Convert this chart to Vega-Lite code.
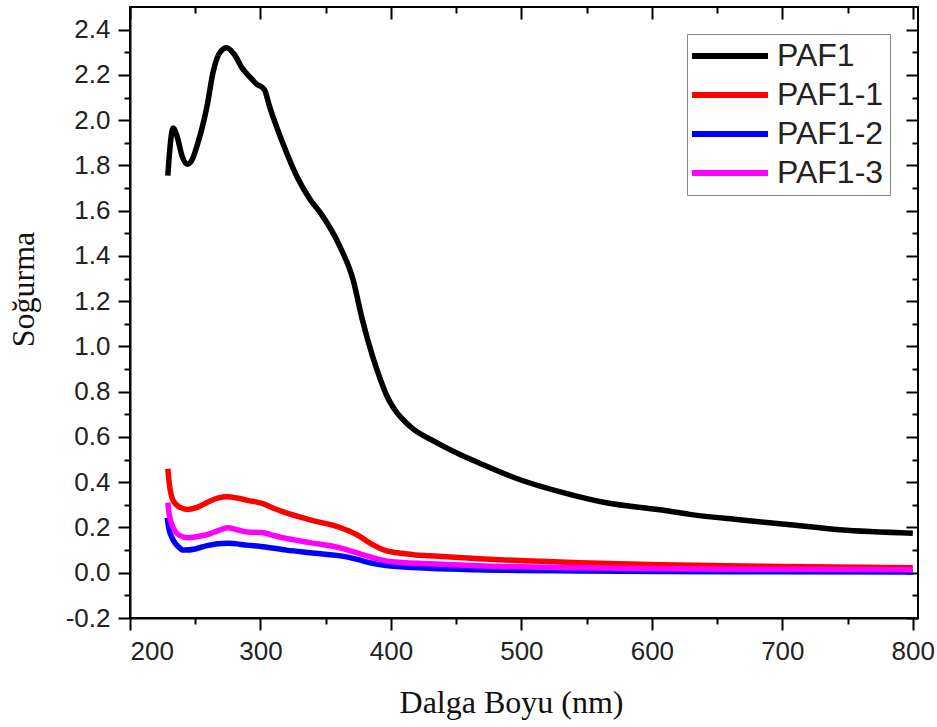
{
  "$schema": "https://vega.github.io/schema/vega-lite/v6.json",
  "width": 788,
  "height": 611,
  "autosize": {"type": "none"},
  "padding": {"left": 130, "top": 7, "right": 19, "bottom": 109},
  "background": "white",
  "config": {
    "view": {"stroke": "black", "strokeWidth": 2},
    "axis": {
      "grid": false,
      "domainColor": "black",
      "domainWidth": 2,
      "tickColor": "black",
      "tickWidth": 2,
      "labelFont": "Liberation Sans",
      "labelFontSize": 26,
      "labelColor": "#222",
      "labelPadding": 8,
      "titleFont": "Liberation Serif",
      "titleFontSize": 32,
      "titleFontWeight": "normal",
      "titleColor": "#111"
    }
  },
  "data": {
    "values": [
      {"s": "PAF1", "x": 229, "y": 1.755},
      {"s": "PAF1", "x": 231, "y": 1.9},
      {"s": "PAF1", "x": 233, "y": 1.965},
      {"s": "PAF1", "x": 236, "y": 1.93},
      {"s": "PAF1", "x": 240, "y": 1.84},
      {"s": "PAF1", "x": 244, "y": 1.805},
      {"s": "PAF1", "x": 248, "y": 1.83},
      {"s": "PAF1", "x": 251, "y": 1.88},
      {"s": "PAF1", "x": 255, "y": 1.96},
      {"s": "PAF1", "x": 259, "y": 2.06},
      {"s": "PAF1", "x": 263.6, "y": 2.21},
      {"s": "PAF1", "x": 269, "y": 2.3},
      {"s": "PAF1", "x": 274, "y": 2.32},
      {"s": "PAF1", "x": 280, "y": 2.29},
      {"s": "PAF1", "x": 286, "y": 2.23},
      {"s": "PAF1", "x": 292, "y": 2.19},
      {"s": "PAF1", "x": 297, "y": 2.16},
      {"s": "PAF1", "x": 303, "y": 2.135},
      {"s": "PAF1", "x": 307, "y": 2.06},
      {"s": "PAF1", "x": 317, "y": 1.9},
      {"s": "PAF1", "x": 328, "y": 1.75},
      {"s": "PAF1", "x": 338, "y": 1.65},
      {"s": "PAF1", "x": 346, "y": 1.59},
      {"s": "PAF1", "x": 361, "y": 1.44},
      {"s": "PAF1", "x": 371, "y": 1.295},
      {"s": "PAF1", "x": 378, "y": 1.12},
      {"s": "PAF1", "x": 386, "y": 0.955},
      {"s": "PAF1", "x": 392, "y": 0.853},
      {"s": "PAF1", "x": 397, "y": 0.78},
      {"s": "PAF1", "x": 403, "y": 0.72},
      {"s": "PAF1", "x": 415, "y": 0.645},
      {"s": "PAF1", "x": 435, "y": 0.575},
      {"s": "PAF1", "x": 455, "y": 0.517},
      {"s": "PAF1", "x": 468, "y": 0.484},
      {"s": "PAF1", "x": 499, "y": 0.411},
      {"s": "PAF1", "x": 532, "y": 0.354},
      {"s": "PAF1", "x": 565, "y": 0.309},
      {"s": "PAF1", "x": 606, "y": 0.278},
      {"s": "PAF1", "x": 629, "y": 0.258},
      {"s": "PAF1", "x": 667, "y": 0.234},
      {"s": "PAF1", "x": 706, "y": 0.212},
      {"s": "PAF1", "x": 744, "y": 0.19},
      {"s": "PAF1", "x": 800, "y": 0.175},

      {"s": "PAF1-1", "x": 229, "y": 0.46},
      {"s": "PAF1-1", "x": 230, "y": 0.4},
      {"s": "PAF1-1", "x": 233, "y": 0.32},
      {"s": "PAF1-1", "x": 238, "y": 0.29},
      {"s": "PAF1-1", "x": 244.5, "y": 0.28},
      {"s": "PAF1-1", "x": 252, "y": 0.29},
      {"s": "PAF1-1", "x": 259, "y": 0.31},
      {"s": "PAF1-1", "x": 267, "y": 0.33},
      {"s": "PAF1-1", "x": 275, "y": 0.336},
      {"s": "PAF1-1", "x": 282, "y": 0.33},
      {"s": "PAF1-1", "x": 290, "y": 0.32},
      {"s": "PAF1-1", "x": 302, "y": 0.305},
      {"s": "PAF1-1", "x": 310, "y": 0.285},
      {"s": "PAF1-1", "x": 317, "y": 0.27},
      {"s": "PAF1-1", "x": 338, "y": 0.234},
      {"s": "PAF1-1", "x": 361, "y": 0.2},
      {"s": "PAF1-1", "x": 374, "y": 0.168},
      {"s": "PAF1-1", "x": 386, "y": 0.124},
      {"s": "PAF1-1", "x": 395, "y": 0.1},
      {"s": "PAF1-1", "x": 405, "y": 0.088},
      {"s": "PAF1-1", "x": 417, "y": 0.08},
      {"s": "PAF1-1", "x": 430, "y": 0.075},
      {"s": "PAF1-1", "x": 468, "y": 0.062},
      {"s": "PAF1-1", "x": 545, "y": 0.044},
      {"s": "PAF1-1", "x": 606, "y": 0.035},
      {"s": "PAF1-1", "x": 700, "y": 0.028},
      {"s": "PAF1-1", "x": 800, "y": 0.022},

      {"s": "PAF1-2", "x": 228.5, "y": 0.243},
      {"s": "PAF1-2", "x": 230, "y": 0.19},
      {"s": "PAF1-2", "x": 233, "y": 0.146},
      {"s": "PAF1-2", "x": 237, "y": 0.115},
      {"s": "PAF1-2", "x": 241, "y": 0.1},
      {"s": "PAF1-2", "x": 250, "y": 0.105},
      {"s": "PAF1-2", "x": 259, "y": 0.12},
      {"s": "PAF1-2", "x": 275, "y": 0.13},
      {"s": "PAF1-2", "x": 290, "y": 0.122},
      {"s": "PAF1-2", "x": 302, "y": 0.115},
      {"s": "PAF1-2", "x": 320, "y": 0.1},
      {"s": "PAF1-2", "x": 338, "y": 0.088},
      {"s": "PAF1-2", "x": 366, "y": 0.07},
      {"s": "PAF1-2", "x": 375, "y": 0.058},
      {"s": "PAF1-2", "x": 384, "y": 0.044},
      {"s": "PAF1-2", "x": 395, "y": 0.033},
      {"s": "PAF1-2", "x": 405, "y": 0.027},
      {"s": "PAF1-2", "x": 466, "y": 0.013},
      {"s": "PAF1-2", "x": 545, "y": 0.008},
      {"s": "PAF1-2", "x": 606, "y": 0.006},
      {"s": "PAF1-2", "x": 700, "y": 0.004},
      {"s": "PAF1-2", "x": 800, "y": 0.003},

      {"s": "PAF1-3", "x": 229, "y": 0.31},
      {"s": "PAF1-3", "x": 230, "y": 0.26},
      {"s": "PAF1-3", "x": 233, "y": 0.2},
      {"s": "PAF1-3", "x": 238, "y": 0.165},
      {"s": "PAF1-3", "x": 244.5, "y": 0.155},
      {"s": "PAF1-3", "x": 252, "y": 0.16},
      {"s": "PAF1-3", "x": 259, "y": 0.168},
      {"s": "PAF1-3", "x": 267, "y": 0.185},
      {"s": "PAF1-3", "x": 275, "y": 0.199},
      {"s": "PAF1-3", "x": 282, "y": 0.19},
      {"s": "PAF1-3", "x": 290, "y": 0.18},
      {"s": "PAF1-3", "x": 302, "y": 0.177},
      {"s": "PAF1-3", "x": 310, "y": 0.165},
      {"s": "PAF1-3", "x": 317, "y": 0.155},
      {"s": "PAF1-3", "x": 338, "y": 0.133},
      {"s": "PAF1-3", "x": 361, "y": 0.11},
      {"s": "PAF1-3", "x": 378, "y": 0.08},
      {"s": "PAF1-3", "x": 390, "y": 0.06},
      {"s": "PAF1-3", "x": 399, "y": 0.05},
      {"s": "PAF1-3", "x": 430, "y": 0.04},
      {"s": "PAF1-3", "x": 466, "y": 0.031},
      {"s": "PAF1-3", "x": 545, "y": 0.022},
      {"s": "PAF1-3", "x": 606, "y": 0.018},
      {"s": "PAF1-3", "x": 700, "y": 0.015},
      {"s": "PAF1-3", "x": 800, "y": 0.013}
    ]
  },
  "layer": [
    {
      "mark": {"type": "line", "strokeWidth": 5.5, "interpolate": "monotone", "clip": true},
      "encoding": {
        "x": {
          "field": "x", "type": "quantitative",
          "scale": {"domain": [200, 804], "nice": false, "zero": false},
          "axis": {
            "orient": "bottom",
            "values": [200, 250, 300, 350, 400, 450, 500, 550, 600, 650, 700, 750, 800],
            "labelExpr": "datum.value % 100 == 0 ? datum.label : ''",
            "tickSize": {"condition": {"test": "datum.value % 100 == 0", "value": 12}, "value": 6},
            "title": "Dalga Boyu (nm)",
            "titleX": 381,
            "titleY": 94,
            "titleAlign": "center",
            "titleBaseline": "alphabetic"
          }
        },
        "y": {
          "field": "y", "type": "quantitative",
          "scale": {"domain": [-0.2, 2.5], "nice": false, "zero": false},
          "axis": {
            "orient": "left",
            "values": [-0.2, -0.1, 0, 0.1, 0.2, 0.3, 0.4, 0.5, 0.6, 0.7, 0.8, 0.9, 1.0, 1.1, 1.2, 1.3, 1.4, 1.5, 1.6, 1.7, 1.8, 1.9, 2.0, 2.1, 2.2, 2.3, 2.4],
            "labelExpr": "round(datum.value * 10) % 2 == 0 ? replace(format(datum.value, '.1f'), '\u2212', '-') : ''",
            "tickSize": {"condition": {"test": "round(datum.value * 10) % 2 == 0", "value": 12}, "value": 6},
            "title": "Soğurma",
            "titleX": -97,
            "titleY": 282,
            "titleAngle": 270,
            "titleAlign": "center",
            "titleBaseline": "alphabetic"
          }
        },
        "color": {
          "field": "s", "type": "nominal",
          "scale": {"domain": ["PAF1", "PAF1-1", "PAF1-2", "PAF1-3"], "range": ["#000000", "#ff0000", "#0000ff", "#ff00ff"]},
          "legend": {
            "orient": "none",
            "legendX": 557,
            "legendY": 27,
            "title": null,
            "symbolType": "M-4,0H4",
            "symbolSize": 361,
            "symbolStrokeWidth": 6,
            "symbolOffset": 21,
            "labelFont": "Liberation Sans",
            "labelFontSize": 32,
            "labelColor": "#222",
            "labelOffset": 31,
            "labelLimit": 300,
            "strokeColor": "#888",
            "fillColor": "white",
            "padding": 6,
            "rowPadding": 7
          }
        }
      }
    },
    {
      "mark": {"type": "line", "opacity": 0},
      "encoding": {
        "x": {
          "field": "x", "type": "quantitative",
          "scale": {"domain": [200, 804], "nice": false, "zero": false},
          "axis": {
            "orient": "top",
            "values": [200, 250, 300, 350, 400, 450, 500, 550, 600, 650, 700, 750, 800],
            "labels": false,
            "domain": false,
            "title": null,
            "tickSize": {"condition": {"test": "datum.value % 100 == 0", "value": -12}, "value": -6}
          }
        },
        "y": {
          "field": "y", "type": "quantitative",
          "scale": {"domain": [-0.2, 2.5], "nice": false, "zero": false},
          "axis": {
            "orient": "right",
            "values": [-0.2, -0.1, 0, 0.1, 0.2, 0.3, 0.4, 0.5, 0.6, 0.7, 0.8, 0.9, 1.0, 1.1, 1.2, 1.3, 1.4, 1.5, 1.6, 1.7, 1.8, 1.9, 2.0, 2.1, 2.2, 2.3, 2.4],
            "labels": false,
            "domain": false,
            "title": null,
            "tickSize": {"condition": {"test": "round(datum.value * 10) % 2 == 0", "value": -12}, "value": -6}
          }
        },
        "detail": {"field": "s", "type": "nominal"}
      }
    }
  ],
  "resolve": {"axis": {"x": "independent", "y": "independent"}}
}
